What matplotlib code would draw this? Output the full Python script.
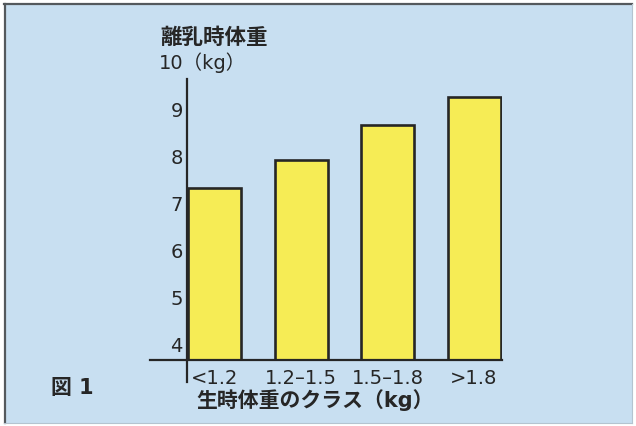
import matplotlib.pyplot as plt
from matplotlib.patches import Rectangle
from matplotlib.lines import Line2D

plt.rcParams['font.family'] = ['DejaVu Sans', 'Noto Sans CJK JP']

classes = ['<1.2', '1.2–1.5', '1.5–1.8', '>1.8']
weaning_weight = [7.3, 7.9, 8.65, 9.25]
yticks = [4, 5, 6, 7, 8, 9]

W, H = 636, 427
ink = '#262626'
fig = plt.figure(figsize=(W / 100, H / 100), dpi=100)
fig.patch.set_facecolor('white')

# light blue panel with its border
fig.patches.append(Rectangle((4 / W, 3 / H), 628 / W, 419 / H, transform=fig.transFigure,
                             facecolor='#c8dff1', edgecolor='none', zorder=-5))
fig.lines.append(Line2D([5 / W, 5 / W], [3 / H, 422 / H], transform=fig.transFigure,
                        color='#54595d', lw=1.6, zorder=-4))
fig.lines.append(Line2D([4 / W, 632 / W], [422 / H, 422 / H], transform=fig.transFigure,
                        color='#54595d', lw=1.6, zorder=-4))
fig.lines.append(Line2D([632 / W, 632 / W], [3 / H, 422 / H], transform=fig.transFigure,
                        color='#b4c4d0', lw=0.8, zorder=-4))
fig.lines.append(Line2D([4 / W, 632 / W], [3 / H, 3 / H], transform=fig.transFigure,
                        color='#b4c4d0', lw=0.8, zorder=-4))

ax = fig.add_axes([187 / W, (427 - 361) / H, 315 / W, 281 / H])
ax.set_facecolor('none')
ax.set_xlim(-0.324, 3.324)
ax.set_ylim(3.65, 9.63)

x = range(len(classes))
ax.bar(x, weaning_weight, width=0.614, color='#f6ec55', edgecolor=ink, linewidth=1.9, zorder=2)

for s in ax.spines.values():
    s.set_visible(False)

# crossed axis lines
ax.plot([-0.117, 1.0], [0, 0], transform=ax.transAxes, color=ink, lw=1.6, clip_on=False, zorder=3)
ax.plot([0, 0], [-0.078, 1.0], transform=ax.transAxes, color=ink, lw=1.6, clip_on=False, zorder=3)

ax.set_yticks(yticks)
ax.set_xticks(list(x), classes)
ax.tick_params(axis='y', length=0, pad=3, labelsize=14, labelcolor=ink)
ax.tick_params(axis='x', length=0, pad=6, labelsize=14, labelcolor=ink)

ax.text(-0.089, 10, '10（kg）', transform=ax.get_yaxis_transform(), ha='left', va='center',
        fontsize=14, color=ink)
fig.text(160 / W, 1 - 38 / H, '離乳時体重', ha='left', va='center', fontsize=15.5, color=ink,
         fontweight='bold')
fig.text(315 / W, 1 - 400 / H, '生時体重のクラス（kg）', ha='center', va='center', fontsize=15,
         color=ink, fontweight='bold')
fig.text(51 / W, 1 - 388 / H, '図 1', ha='left', va='center', fontsize=15, color=ink,
         fontweight='bold')

fig.savefig('out.png', dpi=100)
